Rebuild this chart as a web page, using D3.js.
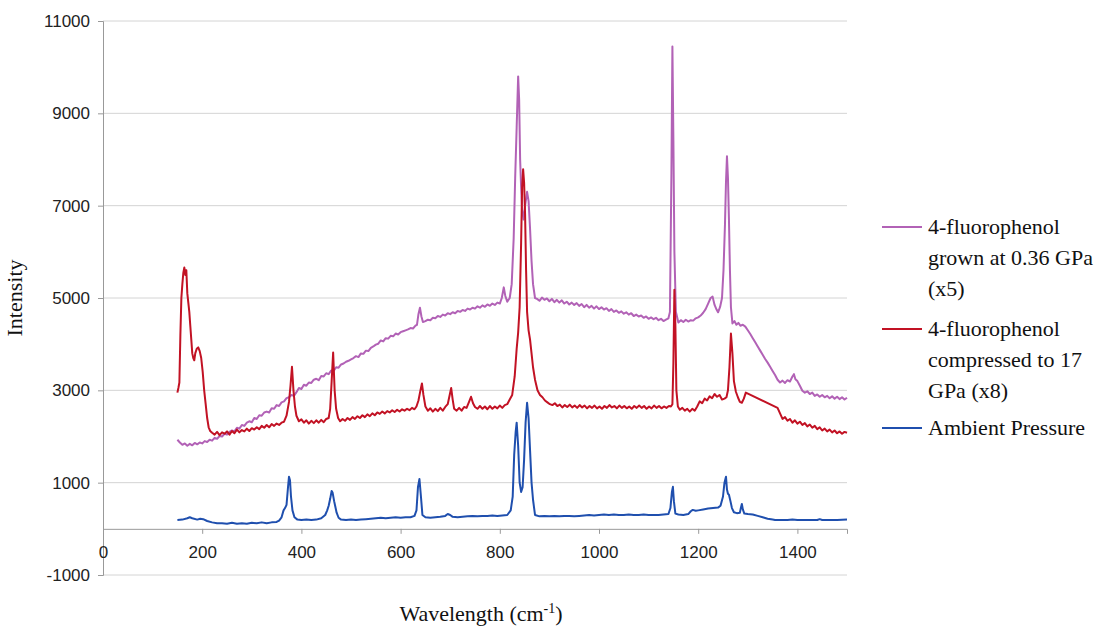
<!DOCTYPE html>
<html>
<head>
<meta charset="utf-8">
<script src="https://cdn.jsdelivr.net/npm/d3@7"></script>
<style>
  body { margin: 0; background: #fff; }
</style>
</head>
<body>
<div id="chart"></div>
<script>

// Data
var grownSeries = [[150,1930],[155,1870],[160,1820],[165,1850],[170,1800],[175,1840],[180,1810],[185,1860],[190,1830],[195,1870],
  [200,1850],[205,1900],[210,1880],[215,1930],[220,1910],[225,1970],[230,1950],[235,2010],[240,2000],[245,2060],
  [250,2040],[255,2100],[260,2130],[265,2110],[270,2190],[275,2170],[280,2250],[285,2230],[290,2300],[295,2330],
  [300,2310],[305,2400],[310,2380],[315,2460],[320,2450],[325,2520],[330,2540],[335,2520],[340,2610],[345,2600],
  [350,2680],[355,2660],[360,2740],[365,2760],[370,2830],[375,2850],[380,2900],[385,2880],[390,2960],[395,3050],
  [400,3030],[405,3120],[410,3100],[415,3170],[420,3160],[425,3230],[430,3250],[435,3220],[440,3310],[445,3300],
  [450,3370],[455,3350],[460,3430],[465,3420],[470,3500],[475,3490],[480,3560],[485,3580],[490,3620],[495,3640],
  [500,3670],[505,3700],[510,3740],[515,3720],[520,3800],[525,3790],[530,3860],[535,3850],[540,3920],[545,3950],
  [550,3990],[555,4010],[560,4080],[565,4060],[570,4130],[575,4120],[580,4180],[585,4170],[590,4230],[595,4210],
  [600,4260],[605,4280],[610,4300],[615,4320],[620,4350],[625,4340],[630,4400],[633,4420],[636,4650],[639,4790],
  [642,4600],[645,4480],[650,4500],[655,4530],[660,4520],[665,4570],[670,4560],[675,4610],[680,4590],[685,4640],
  [690,4620],[695,4670],[700,4650],[705,4690],[710,4670],[715,4720],[720,4700],[725,4740],[730,4720],[735,4770],
  [740,4750],[745,4790],[750,4770],[755,4820],[760,4790],[765,4840],[770,4810],[775,4860],[780,4830],[785,4880],
  [790,4850],[795,4900],[800,4880],[804,5000],[808,5230],[811,5050],[815,4920],[820,5000],[824,5300],[828,6300],
  [831,7600],[834,8700],[837,9800],[839,9300],[841,8000],[843,7400],[845,6900],[848,6700],[851,7000],[855,7300],
  [858,7100],[861,6500],[864,5800],[867,5300],[871,5000],[875,4980],[880,4940],[885,5010],[890,4960],[895,4990],
  [900,4930],[905,4980],[910,4910],[915,4960],[920,4900],[925,4950],[930,4880],[935,4920],[940,4860],[945,4900],
  [950,4850],[955,4890],[960,4830],[965,4870],[970,4800],[975,4850],[980,4790],[985,4830],[990,4770],[995,4820],
  [1000,4760],[1005,4800],[1010,4750],[1015,4780],[1020,4720],[1025,4760],[1030,4700],[1035,4730],[1040,4680],[1045,4710],
  [1050,4660],[1055,4690],[1060,4640],[1065,4670],[1070,4610],[1075,4640],[1080,4600],[1085,4620],[1090,4570],[1095,4600],
  [1100,4550],[1105,4580],[1110,4540],[1115,4570],[1120,4520],[1125,4550],[1130,4500],[1135,4530],[1140,4560],[1143,4700],
  [1146,7700],[1148,10450],[1150,8400],[1152,6000],[1155,4700],[1160,4470],[1165,4520],[1170,4480],[1175,4530],[1180,4490],
  [1185,4520],[1190,4510],[1195,4560],[1200,4580],[1205,4620],[1210,4680],[1215,4760],[1220,4880],[1225,5000],[1229,5030],
  [1233,4850],[1237,4750],[1240,4690],[1244,4800],[1248,5000],[1251,5600],[1254,6600],[1256,7500],[1258,8070],[1260,7600],
  [1262,6700],[1264,5600],[1266,4800],[1269,4450],[1273,4500],[1277,4420],[1281,4460],[1285,4400],[1290,4420],[1295,4380],
  [1300,4300],[1305,4220],[1310,4130],[1315,4040],[1320,3950],[1325,3860],[1330,3770],[1335,3680],[1340,3600],[1345,3510],
  [1350,3420],[1355,3330],[1360,3230],[1365,3170],[1370,3210],[1375,3160],[1380,3220],[1385,3190],[1390,3300],[1393,3350],
  [1396,3240],[1400,3200],[1405,3100],[1410,2990],[1415,2950],[1420,2980],[1425,2920],[1430,2950],[1435,2880],[1440,2910],
  [1445,2860],[1450,2900],[1455,2850],[1460,2880],[1465,2830],[1470,2870],[1475,2820],[1480,2860],[1485,2810],[1490,2850],
  [1495,2800],[1500,2840]];

var compressedSeries = [[150,2950],[152,3050],[154,3170],[156,4200],[158,5000],[160,5300],[162,5550],[164,5660],[166,5500],[168,5600],
  [170,5100],[172,4900],[174,4700],[176,4400],[178,4100],[180,3800],[182,3700],[184,3650],[186,3800],[189,3900],
  [192,3930],[195,3850],[198,3700],[201,3400],[204,3000],[207,2700],[210,2400],[213,2200],[216,2120],[220,2080],
  [225,2040],[230,2100],[235,2030],[240,2090],[245,2060],[250,2110],[255,2040],[260,2120],[265,2070],[270,2150],
  [275,2090],[280,2140],[285,2110],[290,2170],[295,2120],[300,2180],[305,2150],[310,2200],[315,2160],[320,2230],
  [325,2190],[330,2250],[335,2200],[340,2270],[345,2230],[350,2280],[355,2250],[360,2300],[365,2320],[370,2450],
  [375,2750],[378,3100],[381,3510],[384,3000],[387,2650],[390,2450],[395,2330],[400,2370],[405,2300],[410,2350],
  [415,2280],[420,2340],[425,2290],[430,2350],[435,2300],[440,2360],[445,2310],[450,2380],[455,2400],[458,2600],
  [461,3200],[464,3820],[467,3000],[470,2600],[474,2400],[478,2330],[483,2380],[488,2340],[493,2400],[498,2360],
  [503,2420],[508,2380],[513,2440],[518,2400],[523,2460],[528,2420],[533,2480],[538,2440],[543,2500],[548,2460],
  [553,2520],[558,2490],[563,2540],[568,2500],[573,2550],[578,2520],[583,2570],[588,2530],[593,2580],[598,2540],
  [603,2590],[608,2560],[613,2600],[618,2570],[623,2620],[628,2590],[632,2650],[636,2780],[640,3000],[643,3150],
  [646,2900],[650,2650],[655,2560],[660,2610],[665,2540],[670,2600],[675,2550],[680,2620],[685,2560],[690,2640],
  [695,2700],[698,2850],[702,3050],[705,2800],[708,2600],[713,2560],[718,2620],[723,2560],[728,2640],[733,2620],
  [738,2750],[742,2860],[746,2720],[750,2640],[755,2600],[760,2660],[765,2600],[770,2650],[775,2590],[780,2660],
  [785,2600],[790,2650],[795,2610],[800,2670],[805,2620],[810,2680],[815,2700],[820,2800],[825,2900],[830,3300],
  [834,3900],[837,4250],[840,4800],[843,6200],[845,7400],[847,7790],[849,7500],[851,6800],[853,5600],[855,4700],
  [858,4300],[861,4100],[864,3800],[867,3500],[871,3230],[876,3000],[881,2900],[886,2850],[891,2780],[896,2740],
  [901,2700],[906,2680],[911,2720],[916,2660],[921,2690],[926,2630],[931,2680],[936,2640],[941,2690],[946,2630],
  [951,2670],[956,2620],[961,2680],[966,2630],[971,2670],[976,2610],[981,2660],[986,2620],[991,2670],[996,2610],
  [1001,2650],[1006,2600],[1011,2660],[1016,2620],[1021,2680],[1026,2630],[1031,2660],[1036,2610],[1041,2670],[1046,2620],
  [1051,2660],[1056,2610],[1061,2650],[1066,2600],[1071,2660],[1076,2620],[1081,2670],[1086,2620],[1091,2660],[1096,2600],
  [1101,2650],[1106,2610],[1111,2670],[1116,2620],[1121,2660],[1126,2610],[1131,2650],[1136,2620],[1141,2660],[1145,2650],
  [1148,2700],[1150,3600],[1152,5180],[1154,4400],[1156,3000],[1159,2650],[1163,2580],[1168,2620],[1173,2560],[1178,2600],
  [1183,2540],[1188,2600],[1193,2560],[1198,2650],[1203,2760],[1208,2720],[1213,2820],[1218,2780],[1223,2870],[1228,2830],
  [1233,2920],[1238,2860],[1243,2900],[1248,2800],[1253,2820],[1257,2850],[1260,3000],[1263,3500],[1266,4230],[1269,3800],
  [1272,3200],[1276,2970],[1280,2850],[1284,2750],[1288,2730],[1292,2820],[1296,2950],[1360,2620],[1365,2500],[1370,2380],
  [1375,2420],[1380,2340],[1385,2380],[1390,2300],[1395,2350],[1400,2280],[1405,2320],[1410,2250],[1415,2290],[1420,2220],
  [1425,2260],[1430,2190],[1435,2230],[1440,2160],[1445,2200],[1450,2130],[1455,2170],[1460,2110],[1465,2150],[1470,2090],
  [1475,2130],[1480,2070],[1485,2110],[1490,2060],[1495,2100],[1500,2080]];

var ambientSeries = [[150,190],[160,200],[170,230],[175,250],[180,230],[190,200],[196,220],[202,210],[210,170],[220,140],
  [230,120],[240,120],[250,110],[260,130],[270,110],[280,120],[290,110],[300,130],[310,120],[320,140],
  [330,120],[340,140],[350,150],[355,180],[360,250],[364,400],[367,450],[370,520],[373,900],[375,1130],
  [377,1050],[379,700],[382,400],[386,250],[392,200],[400,190],[410,200],[420,190],[430,200],[440,230],
  [448,300],[452,400],[455,500],[458,650],[461,820],[463,780],[466,600],[468,500],[471,350],[475,240],
  [480,200],[490,190],[500,200],[510,190],[520,200],[530,210],[540,220],[550,230],[560,240],[570,230],
  [580,240],[590,250],[600,240],[610,250],[620,250],[628,280],[632,400],[635,900],[638,1080],[641,700],
  [644,300],[650,250],[660,240],[670,250],[680,260],[690,280],[695,320],[700,300],[705,260],[715,250],
  [725,260],[735,270],[745,280],[755,270],[765,280],[775,280],[785,290],[795,280],[805,290],[815,300],
  [822,400],[826,700],[829,1600],[832,2100],[834,2300],[837,1800],[840,1000],[843,800],[846,900],[849,1500],
  [852,2300],[855,2730],[858,2400],[861,1700],[864,1000],[867,630],[871,300],[880,270],[890,280],[900,270],
  [910,280],[920,270],[930,280],[940,280],[950,270],[960,280],[970,290],[980,300],[990,290],[1000,300],
  [1010,310],[1020,300],[1030,310],[1040,300],[1050,300],[1060,310],[1070,300],[1080,300],[1090,310],[1100,300],
  [1110,300],[1120,300],[1130,310],[1140,320],[1144,450],[1147,800],[1149,910],[1151,600],[1154,330],[1160,310],
  [1170,300],[1180,320],[1185,380],[1189,410],[1195,390],[1200,400],[1210,420],[1220,440],[1230,450],[1240,460],
  [1245,500],[1250,700],[1253,1000],[1256,1130],[1258,850],[1260,760],[1262,740],[1265,600],[1268,450],[1272,360],
  [1278,340],[1284,350],[1286,450],[1288,540],[1290,420],[1293,330],[1300,320],[1310,310],[1320,280],[1330,250],
  [1340,220],[1350,200],[1355,190],[1360,190],[1380,190],[1390,200],[1400,190],[1420,190],[1440,190],[1445,210],
  [1450,190],[1480,190],[1500,200]];

var xTicks = [0, 200, 400, 600, 800, 1000, 1200, 1400];
var yTicks = [-1000, 1000, 3000, 5000, 7000, 9000, 11000];

var legendLabels = [
  ["4-fluorophenol", "grown at 0.36 GPa", "(x5)"],
  ["4-fluorophenol", "compressed to 17", "GPa (x8)"],
  ["Ambient Pressure"]
];
var colors = ["#b262b6", "#c21224", "#1f4fae"];

var sansFont = "'Liberation Sans', Arial, sans-serif";
var serifFont = "'Liberation Serif', 'Times New Roman', serif";

// set the dimensions and margins of the graph
var margin = {top: 21, right: 258, bottom: 54, left: 103},
    width = 1105 - margin.left - margin.right,
    height = 629 - margin.top - margin.bottom;

var svg = d3.select("#chart")
  .append("svg")
    .attr("width", 1105)
    .attr("height", 629)
  .append("g")
    .attr("transform", "translate(" + margin.left + "," + margin.top + ")");

var x = d3.scaleLinear().domain([0, 1500]).range([0, width]);
var y = d3.scaleLinear().domain([-1000, 11000]).range([height, 0]);

// gridlines
svg.selectAll("line.grid")
  .data(yTicks)
  .enter()
  .append("line")
    .attr("class", "grid")
    .attr("x1", 0)
    .attr("x2", width)
    .attr("y1", function(d) { return y(d); })
    .attr("y2", function(d) { return y(d); })
    .attr("stroke", "#d4d4d4")
    .attr("stroke-width", 1);

// Y axis
var yAxis = svg.append("g")
  .call(d3.axisLeft(y).tickValues(yTicks).tickSize(5).tickPadding(8).tickFormat(function(d) { return String(d); }));
yAxis.select(".domain").attr("stroke", "#999");
yAxis.selectAll(".tick line").attr("stroke", "#999");
yAxis.selectAll("text").attr("font-family", sansFont).attr("font-size", 17).attr("fill", "#222");

// X axis at zero
var xAxis = svg.append("g")
  .attr("transform", "translate(0," + y(0) + ")")
  .call(d3.axisBottom(x).tickValues(xTicks).tickSize(5).tickPadding(12).tickFormat(function(d) { return String(d); }));
xAxis.select(".domain").attr("stroke", "#999");
xAxis.selectAll(".tick line").attr("stroke", "#999");
xAxis.selectAll("text").attr("font-family", sansFont).attr("font-size", 17).attr("fill", "#222");

// lines
var line = d3.line()
  .x(function(d) { return x(d[0]); })
  .y(function(d) { return y(d[1]); });

[grownSeries, compressedSeries, ambientSeries].forEach(function(s, i) {
  svg.append("path")
    .datum(s)
    .attr("fill", "none")
    .attr("stroke", colors[i])
    .attr("stroke-width", 2)
    .attr("stroke-linejoin", "round")
    .attr("d", line);
});

// axis titles
svg.append("text")
  .attr("transform", "translate(" + (-81) + "," + (height / 2) + ")rotate(-90)")
  .attr("text-anchor", "middle")
  .attr("font-family", serifFont)
  .attr("font-size", 22)
  .attr("fill", "#111")
  .text("Intensity");

var xt = svg.append("text")
  .attr("x", 378)
  .attr("y", height + 46)
  .attr("text-anchor", "middle")
  .attr("font-family", serifFont)
  .attr("font-size", 22)
  .attr("fill", "#111");
xt.append("tspan").text("Wavelength (cm");
xt.append("tspan").attr("dy", -8).attr("font-size", 14).text("-1");
xt.append("tspan").attr("dy", 8).text(")");

// legend
var legendTop = [227, 329, 428];
var legend = svg.append("g").attr("transform", "translate(" + (-margin.left) + "," + (-margin.top) + ")");
legendLabels.forEach(function(lines, i) {
  legend.append("line")
    .attr("x1", 882).attr("x2", 922)
    .attr("y1", legendTop[i]).attr("y2", legendTop[i])
    .attr("stroke", colors[i])
    .attr("stroke-width", 2);
  lines.forEach(function(t, j) {
    legend.append("text")
      .attr("x", 928)
      .attr("y", legendTop[i] + j * 31 + 7)
      .attr("font-family", serifFont)
      .attr("font-size", 22)
      .attr("fill", "#111")
      .text(t);
  });
});

</script>
</body>
</html>
